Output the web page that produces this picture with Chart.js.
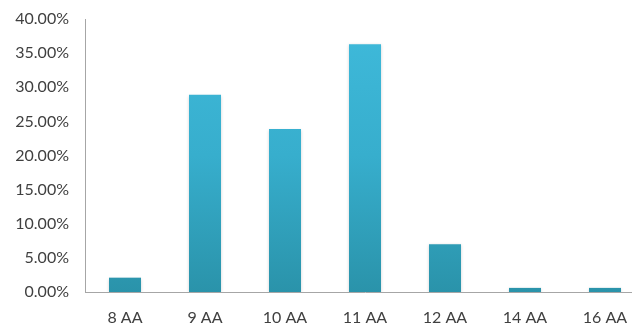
<!DOCTYPE html>
<html>
<head>
<meta charset="utf-8">
<script src="https://cdn.jsdelivr.net/npm/chart.js@4/dist/chart.umd.min.js"></script>
<style>
html,body{margin:0;padding:0;background:#fff;overflow:hidden;width:632px;height:329px;}
canvas{display:block;}
</style>
</head>
<body>
<canvas id="c" width="645" height="329"></canvas>
<script>
const categories = ["8 AA","9 AA","10 AA","11 AA","12 AA","14 AA","16 AA"];
const shares = [2.1, 28.9, 23.9, 36.3, 7.0, 0.6, 0.6];
const yMin = 0, yMax = 40, yStep = 5;

const ctx = document.getElementById('c').getContext('2d');
function barGradient(context){
  const chart = context.chart;
  const area = chart.chartArea;
  if(!area) return '#36aac8';
  const g = chart.ctx.createLinearGradient(0, area.top, 0, area.bottom);
  g.addColorStop(0, '#3fbadb');
  g.addColorStop(0.5, '#37aecd');
  g.addColorStop(1, '#2a93aa');
  return g;
}
const shadowPlugin = {
  id:'shadow',
  beforeDatasetsDraw(chart){ chart.ctx.save(); chart.ctx.shadowColor='rgba(0,0,0,0.18)'; chart.ctx.shadowBlur=3; chart.ctx.shadowOffsetY=1; },
  afterDatasetsDraw(chart){ chart.ctx.restore(); }
};
new Chart(ctx, {
  type:'bar',
  data:{
    labels: categories,
    datasets:[{ data: shares, backgroundColor: barGradient, borderWidth:0, barPercentage:0.4, categoryPercentage:1.0 }]
  },
  plugins:[shadowPlugin],
  options:{
    responsive:false,
    animation:false,
    layout:{ padding:{ top:19, right:0, left:0, bottom:0 } },
    plugins:{ legend:{display:false}, tooltip:{enabled:false} },
    scales:{
      x:{
        grid:{ display:false, drawTicks:false },
        border:{ display:true, color:'#a6a6a6', width:1 },
        ticks:{ color:'#404040', font:{ family:'Lato', size:16 }, padding:16, maxRotation:0 },
        afterFit(s){ s.height = 37; s.paddingLeft = 0; s.paddingRight = 0; }
      },
      y:{
        min:yMin, max:yMax,
        grid:{ display:false, drawTicks:false },
        border:{ display:true, color:'#a6a6a6', width:1 },
        ticks:{ stepSize:yStep, color:'#404040', font:{ family:'Lato', size:16 }, padding:16,
          callback:(v)=> v.toFixed(2) + '%' },
        afterFit(s){ s.width = 85; s.paddingTop = 0; s.paddingBottom = 0; }
      }
    }
  }
});
</script>
</body>
</html>
